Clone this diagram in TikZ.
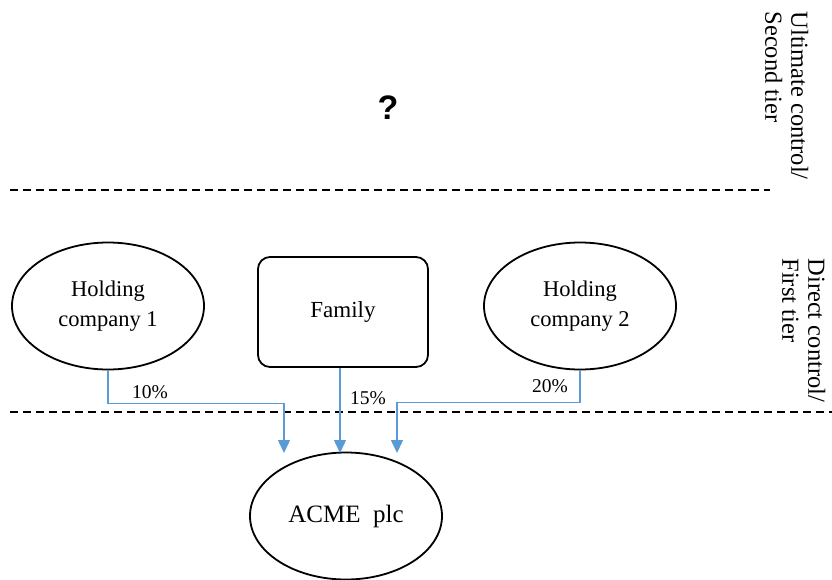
\documentclass[tikz,border=0pt]{standalone}
\usepackage{fontspec}
\setmainfont{Liberation Serif}
\newfontfamily\qfont{Liberation Sans}
\usepackage{xcolor}
\definecolor{cLine}{HTML}{5B9BD5}
\definecolor{cEdge}{HTML}{000000}
\usepackage{tikz}
\usetikzlibrary{positioning,arrows.meta,shapes.geometric}
\tikzset{
  node-ell/.style={draw=cEdge,line width=1.8pt,ellipse,inner sep=0pt,
    minimum width=192pt,minimum height=127pt,align=center,
    font=\fontsize{22.5}{30}\selectfont},
  node-box/.style={draw=cEdge,line width=1.8pt,rounded corners=12pt,inner sep=0pt,
    minimum width=170pt,minimum height=110pt,align=center,
    font=\fontsize{23}{30}\selectfont},
  tier-line/.style={dashed,line width=1.5pt,dash pattern=on 8pt off 5pt},
  tier-label/.style={rotate=-90,align=left,font=\fontsize{24.5}{26}\selectfont},
  pct/.style={font=\fontsize{19.5}{20}\selectfont},
  arrow/.style={-{Triangle[length=13pt,width=12pt]},line width=1.5pt,draw=cLine},
}
\begin{document}
\begin{tikzpicture}[x=1pt,y=-1pt]
  \useasboundingbox (0,0) rectangle (832,579);
  % tiers
  \draw[tier-line] (10,190) -- (770,190);
  \draw[tier-line] (10,412) -- (832,412);
  \node[tier-label,anchor=north west] (ultimate) at (812,8) {Ultimate control/\\Second tier};
  \node[tier-label,anchor=north west] (direct) at (829,255) {Direct control/\\First tier};
  \node[font=\qfont\bfseries\fontsize{34}{34}\selectfont] (unknown) at (388,108) {?};
  % first tier
  \node[node-ell] (hc1) at (108,306) {Holding\\company 1};
  \node[node-box] (family) at (343,312) {Family};
  \node[node-ell] (hc2) at (580,306) {Holding\\company 2};
  % ACME
  \node[node-ell,font=\fontsize{25}{30}\selectfont] (acme) at (346,516) {ACME\ \ plc};
  \coordinate (in1) at (284,453);
  \coordinate (in2) at (340,453);
  \coordinate (in3) at (397,453);
  \draw[arrow] (hc1.south) -- ++(0,33) -| (in1);
  \draw[arrow] (family.south -| in2) -- (in2);
  \draw[arrow] (hc2.south) -- ++(0,32) -| (in3);
  \node[pct] (p1) at (150,392) {10\%};
  \node[pct] (p2) at (368,398) {15\%};
  \node[pct] (p3) at (550,386) {20\%};
\end{tikzpicture}
\end{document}
